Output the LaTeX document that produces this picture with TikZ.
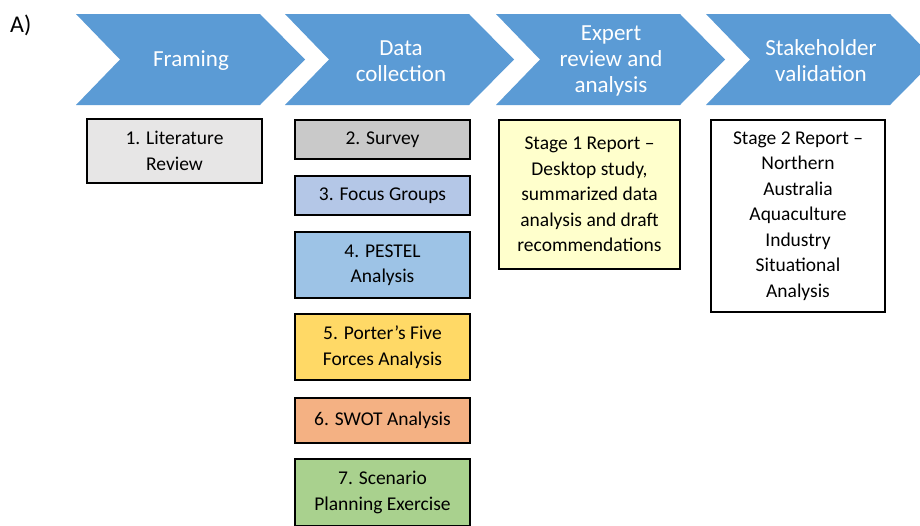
\documentclass[tikz,border=0pt]{standalone}
\usepackage{fontspec}
\setmainfont{Carlito}
\definecolor{chevblue}{HTML}{5B9BD5}
\definecolor{litgray}{HTML}{E7E6E6}
\definecolor{survgray}{HTML}{C9C9C9}
\definecolor{focusblue}{HTML}{B4C7E7}
\definecolor{pestblue}{HTML}{9DC3E6}
\definecolor{porteryel}{HTML}{FFD966}
\definecolor{swotorange}{HTML}{F4B183}
\definecolor{scengreen}{HTML}{A9D18E}
\definecolor{stageyel}{HTML}{FFFFCC}
\begin{document}
\begin{tikzpicture}[x=1pt,y=-1pt,
  chev/.style={fill=chevblue},
  chevtext/.style={text=white,align=center,font=\fontsize{23}{26}\selectfont,inner sep=0pt},
  box/.style={draw=black,line width=1.6pt,align=center,inner sep=0pt,
    font=\fontsize{19.5}{25.5}\selectfont,text=black}]
\useasboundingbox (0,0) rectangle (920,525);
\clip (0,0) rectangle (920,525);
\fill[white] (0,0) rectangle (920,525);
\node[anchor=base west,inner sep=0pt,font=\fontsize{24}{26}\selectfont] (lbl) at (10,32) {A)};
% chevrons
\foreach \L in {76,285,496,706}{
  \fill[chev] (\L,14) -- (\L+184,14) -- (\L+229,59.5) -- (\L+184,105) -- (\L,105) -- (\L+44,59.5) -- cycle;
}
\node[chevtext] (c1) at (191,61) {Framing};
\node[chevtext] (c2) at (401,61) {Data\\collection};
\node[chevtext] (c3) at (611,61) {Expert\\review and\\analysis};
\node[chevtext] (c4) at (821,61) {Stakeholder\\validation};
% boxes
\node[box,fill=litgray,minimum width=175pt,minimum height=64pt] (b1) at (174.5,151) {1. Literature\\Review};
\node[box,fill=survgray,minimum width=175pt,minimum height=39pt] (b2) at (382.5,139.5) {2. Survey};
\node[box,fill=focusblue,minimum width=175pt,minimum height=39pt] (b3) at (382.5,195.5) {3. Focus Groups};
\node[box,fill=pestblue,minimum width=175pt,minimum height=66pt] (b4) at (382.5,265) {4. PESTEL\\Analysis};
\node[box,fill=porteryel,minimum width=175pt,minimum height=66pt] (b5) at (382.5,347) {5. Porter’s Five\\Forces Analysis};
\node[box,fill=swotorange,minimum width=175pt,minimum height=45pt] (b6) at (382.5,420.5) {6. SWOT Analysis};
\node[box,fill=scengreen,minimum width=175pt,minimum height=67pt] (b7) at (382.5,492.5) {7. Scenario\\Planning Exercise};
\node[box,fill=stageyel,minimum width=181pt,minimum height=149pt] (s1) at (589.5,194.5) {Stage 1 Report –\\Desktop study,\\summarized data\\analysis and draft\\recommendations};
\node[box,fill=white,minimum width=174pt,minimum height=192pt] (s2) at (798,216) {Stage 2 Report –\\Northern\\Australia\\Aquaculture\\Industry\\Situational\\Analysis};
\end{tikzpicture}
\end{document}
